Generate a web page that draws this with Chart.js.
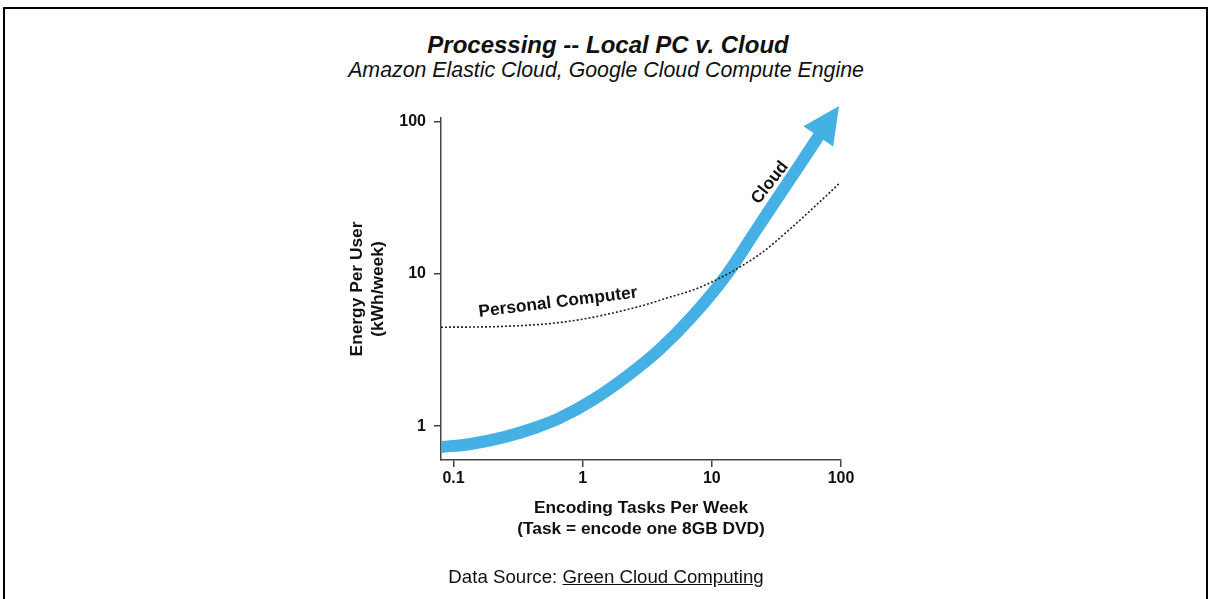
<!DOCTYPE html>
<html>
<head>
<meta charset="utf-8">
<script src="https://cdn.jsdelivr.net/npm/chart.js@4"></script>
<style>
  body { margin: 0; background: #fff; font-family: "Liberation Sans", Arial, sans-serif; color: #111; }
  #frame { position: absolute; left: 3px; top: 7px; width: 1201px; height: 640px; border: 2px solid #000; border-bottom: none; }
  #grafico { position: absolute; left: 0; top: 0; }
  .txt { position: absolute; white-space: nowrap; line-height: 1; transform: translateX(-50%); }
  #titulo { left: 608px; top: 33px; font-size: 24px; font-weight: bold; font-style: italic; }
  #subtitulo { left: 606px; top: 59.5px; font-size: 21.33px; font-style: italic; }
  #fonte { left: 606px; top: 567.5px; font-size: 18.67px; }
  #fonte u { text-decoration: underline; }
</style>
</head>
<body>
<div id="frame"></div>
<div class="txt" id="titulo">Processing -- Local PC v. Cloud</div>
<div class="txt" id="subtitulo">Amazon Elastic Cloud, Google Cloud Compute Engine</div>
<canvas id="grafico" width="1208" height="599"></canvas>
<div class="txt" id="fonte">Data Source: <u>Green Cloud Computing</u></div>
<script>
// valores (escala log-log)
const xTicks = [0.1, 1, 10, 100];
const yTicks = [1, 10, 100];

const cloudX = [0.08, 0.132, 0.242, 0.435, 0.667, 1.20, 2.20, 3.97, 7.15, 13.1, 22.0, 31.9, 46.5, 68.8];
const cloudY = [0.731, 0.762, 0.845, 0.981, 1.134, 1.49, 2.13, 3.21, 5.34, 9.98, 19.4, 31.2, 50.2, 83.3];
const cloudTip = [96.5, 127];

const pcX = [0.08, 0.242, 0.783, 2.59, 4.66, 7.68, 13.8, 24.9, 38.2, 68.8, 98.2];
const pcY = [4.47, 4.53, 4.89, 6.04, 7.02, 8.04, 10.2, 14.0, 19.0, 29.9, 39.8];

const rotulos = [
  { text: 'Personal Computer', x: 0.644, y: 6.51, angle: -7 },
  { text: 'Cloud', x: 28.2, y: 39.8, angle: -52 }
];

const corCloud = '#44b0e4';
const familia = '"Liberation Sans", Arial, sans-serif';
const fonteTick = { family: familia, size: 16, weight: 'bold' };

const pontos = (xs, ys) => xs.map((v, i) => ({ x: v, y: ys[i] }));

const anotacoes = {
  id: 'anotacoes',
  afterDatasetsDraw(chart) {
    const { ctx, scales: { x, y } } = chart;
    const n = cloudX.length - 1;
    const bx = x.getPixelForValue(cloudX[n]);
    const by = y.getPixelForValue(cloudY[n]);
    const tx = x.getPixelForValue(cloudTip[0]);
    const ty = y.getPixelForValue(cloudTip[1]);
    const ang = Math.atan2(ty - by, tx - bx);
    const hw = 18;
    const ox = bx - 3 * Math.cos(ang), oy = by - 3 * Math.sin(ang);

    ctx.save();
    ctx.fillStyle = corCloud;
    ctx.beginPath();
    ctx.moveTo(tx, ty);
    ctx.lineTo(ox + hw * Math.sin(ang), oy - hw * Math.cos(ang));
    ctx.lineTo(ox - hw * Math.sin(ang), oy + hw * Math.cos(ang));
    ctx.closePath();
    ctx.fill();

    ctx.font = 'bold 17.33px ' + familia;
    ctx.fillStyle = '#111';
    ctx.textAlign = 'center';
    ctx.textBaseline = 'middle';
    rotulos.forEach(r => {
      ctx.save();
      ctx.translate(x.getPixelForValue(r.x), y.getPixelForValue(r.y));
      ctx.rotate(r.angle * Math.PI / 180);
      ctx.fillText(r.text, 0, 0);
      ctx.restore();
    });
    ctx.restore();
  }
};

const ctx = document.getElementById('grafico').getContext('2d');
new Chart(ctx, {
  type: 'line',
  data: {
    datasets: [
      {
        label: 'Personal Computer',
        data: pontos(pcX, pcY),
        borderColor: '#222',
        borderWidth: 1.6,
        borderDash: [2, 2],
        pointRadius: 0,
        cubicInterpolationMode: 'monotone',
        fill: false
      },
      {
        label: 'Cloud',
        data: pontos(cloudX, cloudY),
        borderColor: corCloud,
        borderWidth: 12,
        pointRadius: 0,
        cubicInterpolationMode: 'monotone',
        fill: false
      }
    ]
  },
  options: {
    responsive: false,
    animation: false,
    layout: { padding: { left: 330, right: 367, top: 118, bottom: 49 } },
    plugins: { legend: { display: false }, tooltip: { enabled: false } },
    scales: {
      x: {
        type: 'logarithmic',
        min: 0.08,
        max: 100,
        afterBuildTicks: s => { s.ticks = xTicks.map(v => ({ value: v })); },
        afterFit: s => { s.height = 90; },
        ticks: { callback: v => String(v), font: fonteTick, color: '#111', padding: 2, maxRotation: 0, autoSkip: false },
        grid: { drawOnChartArea: false, drawTicks: true, tickLength: 7, color: '#444', lineWidth: 1.5 },
        border: { display: true, color: '#444', width: 1.5 },
        title: {
          display: true,
          text: ['Encoding Tasks Per Week', '(Task = encode one 8GB DVD)'],
          font: { family: familia, size: 17.33, weight: 'bold', lineHeight: 1.22 },
          color: '#111',
          padding: { top: 0, bottom: 10 }
        }
      },
      y: {
        type: 'logarithmic',
        min: 0.61,
        max: 106,
        afterBuildTicks: s => { s.ticks = yTicks.map(v => ({ value: v })); },
        afterFit: s => { s.width = 111; },
        ticks: { callback: v => String(v), font: fonteTick, color: '#111', padding: 8, autoSkip: false },
        grid: { drawOnChartArea: false, drawTicks: true, tickLength: 7, color: '#444', lineWidth: 1.5 },
        border: { display: true, color: '#444', width: 1.5 },
        title: {
          display: true,
          text: ['Energy Per User', '(kWh/week)'],
          font: { family: familia, size: 17.33, weight: 'bold', lineHeight: 1.25 },
          color: '#111',
          padding: { top: 16, bottom: 0 }
        }
      }
    }
  },
  plugins: [anotacoes]
});
</script>
</body>
</html>
